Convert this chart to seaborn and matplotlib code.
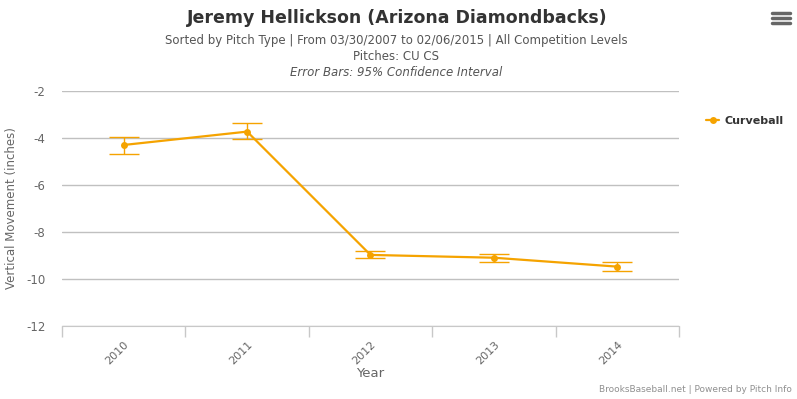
import numpy as np
import pandas as pd
import matplotlib
matplotlib.use('Agg')
import matplotlib.pyplot as plt
import seaborn as sns
from matplotlib.lines import Line2D

# values
years = ['2010', '2011', '2012', '2013', '2014']
vmov = [-4.29, -3.72, -8.98, -9.10, -9.48]
ci_hi = [-3.94, -3.37, -8.83, -8.94, -9.30]
ci_lo = [-4.69, -4.05, -9.13, -9.27, -9.68]
yticks = [-2, -4, -6, -8, -10, -12]

orange = '#F5A300'
df = pd.DataFrame({'pos': range(len(years)), 'year': years, 'v': vmov})

sns.set_style('white')
plt.rcParams['font.family'] = ['DejaVu Sans']

fig = plt.figure(figsize=(7.97, 3.99), dpi=100)
ax = fig.add_axes([62/797, 1-325.7/399, (679-62)/797, (325.7-91.3)/399])

sns.lineplot(data=df, x='pos', y='v', ax=ax, color=orange, lw=1.6,
             marker='o', markersize=5, markeredgewidth=0, label='Curveball')
yerr = [np.array(vmov) - np.array(ci_lo), np.array(ci_hi) - np.array(vmov)]
ax.errorbar(df['pos'], df['v'], yerr=yerr, fmt='none', ecolor=orange,
            elinewidth=1, capsize=10.5, capthick=1)

ax.set_xlim(-0.5, len(years) - 0.5)
ax.set_ylim(-12, -2)
ax.set_yticks(yticks)
ax.set_yticklabels([str(t) for t in yticks], color='#666666', fontsize=8.5)
ax.yaxis.grid(True, color='#C0C0C0', lw=1)
ax.tick_params(axis='y', length=0, pad=12)

# category boundaries as tick marks, labels at centres
ax.set_xticks(np.arange(-0.5, len(years)))
ax.set_xticklabels([])
ax.tick_params(axis='x', which='major', bottom=True, length=8, width=1,
               color='#C8C8C8', direction='out')
ax.set_xticks(range(len(years)), minor=True)
ax.set_xticklabels(years, minor=True, rotation=45, ha='right', va='top',
                   rotation_mode='anchor', color='#666666', fontsize=8)
ax.tick_params(axis='x', which='minor', bottom=False, length=0, pad=10)

for s in ['top', 'right', 'left']:
    ax.spines[s].set_visible(False)
ax.spines['bottom'].set_color('#C8C8C8')

ax.set_xlabel('Year', color='#666666', fontsize=9.5, labelpad=0)
ax.set_ylabel('Vertical Movement (inches)', color='#666666', fontsize=8.5, labelpad=6)

leg = ax.legend(loc='center left', bbox_to_anchor=((706-62)/617, (325.7-121)/234.4),
                frameon=False, borderpad=0, borderaxespad=0,
                handlelength=1.2, handletextpad=0.5, prop={'weight': 'bold', 'size': 8})
for t in leg.get_texts():
    t.set_color('#333333')

fig.text(0.499, 0.955, 'Jeremy Hellickson (Arizona Diamondbacks)', ha='center', va='center',
         fontsize=12.5, fontweight='bold', color='#333333')
fig.text(0.497, 0.898, 'Sorted by Pitch Type | From 03/30/2007 to 02/06/2015 | All Competition Levels',
         ha='center', va='center', fontsize=8.5, color='#555555')
fig.text(0.497, 0.858, 'Pitches: CU CS', ha='center', va='center', fontsize=8.5, color='#555555')
fig.text(0.497, 0.818, 'Error Bars: 95% Confidence Interval', ha='center', va='center',
         fontsize=8.5, color='#555555', style='italic')
fig.text(0.993, 0.025, 'BrooksBaseball.net | Powered by Pitch Info', ha='right', va='center',
         fontsize=6.5, color='#909090')

# menu icon
for yy in [13, 18, 23]:
    fig.add_artist(Line2D([772/797, 790/797], [1-yy/399, 1-yy/399], color='#666666', lw=2.5))

fig.savefig('out.png', dpi=100)
